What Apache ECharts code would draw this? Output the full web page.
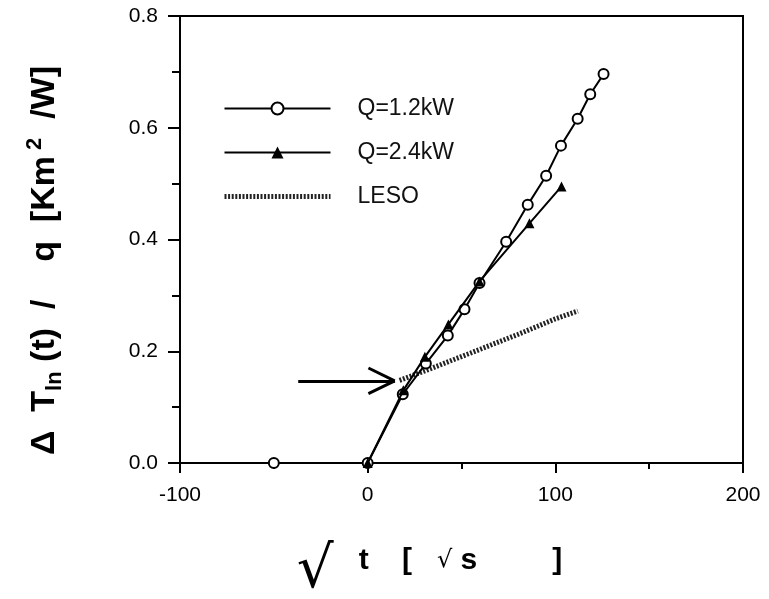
<!DOCTYPE html>
<html>
<head>
<meta charset="utf-8">
<script src="https://cdn.jsdelivr.net/npm/echarts@6/dist/echarts.min.js"></script>
<style>
  html, body { margin: 0; padding: 0; background: #fff; }
  #main { width: 769px; height: 599px; }
</style>
</head>
<body>
<div id="main"></div>
<script>
// Q=1.2kW (open circles)
var x12 = [-50, 0, 18.7, 31, 42.7, 51.6, 59.6, 73.8, 85.3, 95.1, 103.0, 111.9, 118.6, 125.7];
var y12 = [0, 0, 0.123, 0.178, 0.228, 0.275, 0.322, 0.396, 0.462, 0.514, 0.568, 0.616, 0.660, 0.696];
// Q=2.4kW (filled triangles)
var x24 = [0, 19, 30.5, 43, 59.6, 86.2, 103.3];
var y24 = [0, 0.13, 0.19, 0.248, 0.325, 0.429, 0.495];
// LESO (dotted)
var xLeso = [17, 25, 33, 45, 55, 67, 80, 90, 100, 112];
var yLeso = [0.148, 0.158, 0.168, 0.184, 0.197, 0.213, 0.230, 0.244, 0.258, 0.272];
// arrow pointing at the break point
var arrowTail = [-37, 0.147];
var arrowTip = [14.4, 0.147];
var arrowHead = [14, 0.023]; // length along x, half width along y (data units)

var xTicks = [-100, 0, 100, 200];
var yTicks = [0.0, 0.2, 0.4, 0.6, 0.8];

function pairs(xs, ys) {
    return xs.map(function (x, i) { return [x, ys[i]]; });
}

var font = "'Liberation Sans', Arial, Helvetica, sans-serif";

var myChart = echarts.init(document.getElementById('main'));

var option = {
    backgroundColor: '#fff',
    animation: false,
    grid: {
        left: 180, right: 26, top: 16, bottom: 136,
        outerBoundsMode: 'none',
        show: true, borderColor: '#000', borderWidth: 2
    },
    legend: {
        orient: 'vertical',
        left: 217,
        top: 92,
        itemWidth: 106,
        itemHeight: 15,
        itemGap: 21,
        textStyle: { fontFamily: font, fontSize: 23, color: '#111', padding: [0, 0, 0, 22] },
        data: [
            'Q=1.2kW',
            'Q=2.4kW',
            { name: 'LESO', itemStyle: { opacity: 0 }, lineStyle: { width: 5, type: [2, 1.6], color: '#222' } }
        ]
    },
    xAxis: {
        type: 'value',
        min: xTicks[0], max: xTicks[xTicks.length - 1], interval: 100,
        axisLine: { onZero: false, lineStyle: { color: '#000', width: 2 } },
        axisTick: { length: 10, lineStyle: { color: '#000', width: 2 } },
        minorTick: { show: true, splitNumber: 2, length: 6, lineStyle: { color: '#000', width: 2 } },
        splitLine: { show: false },
        axisLabel: { color: '#000', fontFamily: font, fontSize: 21, margin: 22 },
        name: '{r|√}{b|   t    [   }{s|√}{b| s         ]}',
        nameLocation: 'middle',
        nameGap: 58,
        nameTextStyle: {
            padding: [0, 64, 0, 0],
            rich: {
                r: { fontFamily: "'DejaVu Sans', sans-serif", fontSize: 58, color: '#000', lineHeight: 60, verticalAlign: 'bottom' },
                b: { fontFamily: font, fontWeight: 'bold', fontSize: 30, color: '#000', lineHeight: 80, verticalAlign: 'middle' },
                s: { fontFamily: "'DejaVu Sans', sans-serif", fontSize: 24, color: '#000', lineHeight: 80, verticalAlign: 'middle' }
            }
        }
    },
    yAxis: {
        type: 'value',
        min: yTicks[0], max: yTicks[yTicks.length - 1], interval: 0.2,
        axisLine: { onZero: false, lineStyle: { color: '#000', width: 2 } },
        axisTick: { length: 12, lineStyle: { color: '#000', width: 2 } },
        minorTick: { show: true, splitNumber: 2, length: 8, lineStyle: { color: '#000', width: 2 } },
        splitLine: { show: false },
        axisLabel: {
            color: '#000', fontFamily: font, fontSize: 21, margin: 22,
            formatter: function (v) { return v.toFixed(1); }
        },
        name: '{b|Δ  T}{sub|ln}{b| (t)  /    q  [Km}{sup| 2}{b|  /W]}',
        nameLocation: 'middle',
        nameGap: 114,
        nameRotate: 90,
        nameTextStyle: {
            padding: [0, 42, 0, 0],
            rich: {
                b: { fontFamily: font, fontWeight: 'bold', fontSize: 34, color: '#000', lineHeight: 42, verticalAlign: 'middle' },
                sub: { fontFamily: font, fontWeight: 'bold', fontSize: 22, color: '#000', lineHeight: 22, verticalAlign: 'bottom' },
                sup: { fontFamily: font, fontWeight: 'bold', fontSize: 22, color: '#000', lineHeight: 22, verticalAlign: 'top' }
            }
        }
    },
    series: [
        {
            name: 'LESO',
            type: 'line',
            data: pairs(xLeso, yLeso),
            symbol: 'none',
            lineStyle: { color: '#222', width: 5, type: [2, 1.6] },
            itemStyle: { color: '#222' },
            z: 2
        },
        {
            name: 'Q=1.2kW',
            type: 'line',
            data: pairs(x12, y12),
            symbol: 'circle',
            symbolSize: 10,
            showAllSymbol: true,
            lineStyle: { color: '#000', width: 2 },
            itemStyle: { color: '#fff', borderColor: '#000', borderWidth: 2 },
            z: 3,
            markLine: {
                silent: true,
                symbol: 'none',
                animation: false,
                label: { show: false },
                lineStyle: { color: '#000', width: 3, type: 'solid' },
                data: [
                    [{ coord: arrowTail }, { coord: arrowTip }],
                    [{ coord: arrowTip }, { coord: [arrowTip[0] - arrowHead[0], arrowTip[1] + arrowHead[1]] }],
                    [{ coord: arrowTip }, { coord: [arrowTip[0] - arrowHead[0], arrowTip[1] - arrowHead[1]] }]
                ]
            }
        },
        {
            name: 'Q=2.4kW',
            type: 'line',
            data: pairs(x24, y24),
            symbol: 'triangle',
            symbolSize: 10,
            showAllSymbol: true,
            lineStyle: { color: '#000', width: 2 },
            itemStyle: { color: '#000' },
            z: 4
        }
    ]
};

myChart.setOption(option);
</script>
</body>
</html>
